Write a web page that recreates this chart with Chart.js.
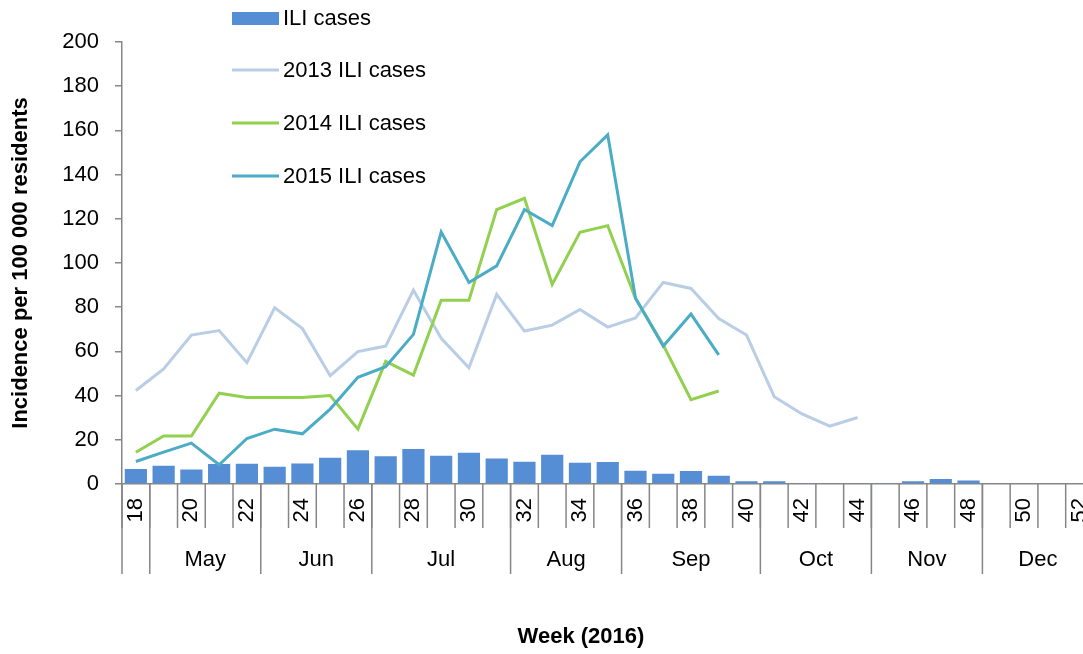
<!DOCTYPE html>
<html>
<head>
<meta charset="utf-8">
<script src="https://cdn.jsdelivr.net/npm/chart.js@4.4.1/dist/chart.umd.min.js"></script>
<style>
  html, body { margin: 0; padding: 0; overflow: hidden; background: #fff; }
  canvas { display: block; }
</style>
</head>
<body>
<canvas id="iliChart" width="1120" height="654"></canvas>
<script>
// weeks of 2016 shown on the x axis
const weeks = [18, 19, 20, 21, 22, 23, 24, 25, 26, 27, 28, 29, 30, 31, 32, 33, 34, 35,
  36, 37, 38, 39, 40, 41, 42, 43, 44, 45, 46, 47, 48, 49, 50, 51, 52];
const months = ["May", "Jun", "Jul", "Aug", "Sep", "Oct", "Nov", "Dec"];
const monthFirstWeek = [19, 23, 27, 32, 36, 41, 45, 49];
const yTicks = [0, 20, 40, 60, 80, 100, 120, 140, 160, 180, 200];

// incidence per 100 000 residents
const iliCases = [6.8, 8.3, 6.6, 9.0, 9.2, 7.8, 9.3, 11.9, 15.3, 12.6, 15.8, 12.8, 14.1,
  11.5, 10.1, 13.2, 9.6, 9.9, 6.0, 4.6, 5.9, 3.7, 1.3, 1.3, 0.4, 0, 0, 0.4, 1.3, 2.3, 1.6,
  0, 0, 0, 0];
const ili2013 = [42.3, 52.1, 67.4, 69.4, 54.9, 79.7, 70.3, 49.0, 59.9, 62.4, 87.7, 65.9,
  52.6, 85.8, 69.2, 71.9, 79.0, 71.0, 75.1, 91.2, 88.5, 74.9, 67.4, 39.5, 31.7, 26.2, 30.1];
const ili2014 = [14.4, 21.7, 21.7, 41.1, 39.1, 39.1, 39.1, 40.0, 24.8, 55.5, 49.3, 83.2,
  83.2, 124.2, 129.3, 90.3, 113.9, 116.9, 84.0, 62.9, 38.1, 42.1];
const ili2015 = [10.2, 14.4, 18.5, 8.7, 20.6, 24.8, 22.7, 33.9, 48.3, 53.1, 67.7, 114.0,
  91.2, 98.7, 124.2, 116.9, 145.8, 158.0, 84.2, 62.4, 76.9, 58.4];

const FONT = "'Liberation Sans', Arial, sans-serif";
const GREY = "#868686";

// month rows under the week ticks, axis title and the legend
const extrasPlugin = {
  id: "extras",
  afterDraw(chart) {
    const ctx = chart.ctx;
    const xs = chart.scales.x;
    const step = xs.width / weeks.length;
    const edge = (k) => xs.left + k * step;

    ctx.save();
    ctx.strokeStyle = GREY;
    ctx.lineWidth = 1.5;
    for (let k = 0; k <= weeks.length; k++) {
      ctx.beginPath();
      ctx.moveTo(edge(k), xs.top);
      ctx.lineTo(edge(k), xs.top + 44);
      ctx.stroke();
    }

    const bounds = [0, ...monthFirstWeek.map((w) => weeks.indexOf(w)), weeks.length];
    bounds.forEach((k) => {
      ctx.beginPath();
      ctx.moveTo(edge(k), xs.top);
      ctx.lineTo(edge(k), xs.top + 90);
      ctx.stroke();
    });

    ctx.fillStyle = "#000";
    ctx.font = "22px " + FONT;
    ctx.textAlign = "center";
    ctx.textBaseline = "middle";
    months.forEach((m, i) => {
      const x = (edge(bounds[i + 1]) + edge(bounds[i + 2])) / 2;
      ctx.fillText(m, x, xs.top + 76);
    });

    ctx.font = "bold 22px " + FONT;
    ctx.fillText("Week (2016)", 581, 637);

    // legend
    ctx.textAlign = "left";
    ctx.font = "22px " + FONT;
    const rows = [18, 70, 123, 176];
    chart.data.datasets.forEach((ds, i) => {
      const y = rows[i];
      if (ds.type === "bar") {
        ctx.fillStyle = ds.backgroundColor;
        ctx.fillRect(232, y - 6, 47, 13);
      } else {
        ctx.strokeStyle = ds.borderColor;
        ctx.lineWidth = 3;
        ctx.beginPath();
        ctx.moveTo(232, y);
        ctx.lineTo(279, y);
        ctx.stroke();
      }
      ctx.fillStyle = "#000";
      ctx.fillText(ds.label, 283, y + 1);
    });
    ctx.restore();
  },
};

const ctx = document.getElementById("iliChart").getContext("2d");
const iliChart = new Chart(ctx, {
  data: {
    labels: weeks,
    datasets: [
      {
        type: "bar",
        label: "ILI cases",
        data: iliCases,
        backgroundColor: "#558ed5",
        barPercentage: 0.8,
        categoryPercentage: 1,
        order: 4,
      },
      {
        type: "line",
        label: "2013 ILI cases",
        data: ili2013,
        borderColor: "#b9cde5",
        borderWidth: 3,
        pointRadius: 0,
        tension: 0,
        order: 3,
      },
      {
        type: "line",
        label: "2014 ILI cases",
        data: ili2014,
        borderColor: "#92d050",
        borderWidth: 3,
        pointRadius: 0,
        tension: 0,
        order: 2,
      },
      {
        type: "line",
        label: "2015 ILI cases",
        data: ili2015,
        borderColor: "#4bacc6",
        borderWidth: 3,
        pointRadius: 0,
        tension: 0,
        order: 1,
      },
    ],
  },
  options: {
    responsive: false,
    animation: false,
    events: [],
    layout: { padding: { top: 42, right: 3, left: 0, bottom: 0 } },
    plugins: {
      legend: { display: false },
      tooltip: { enabled: false },
    },
    scales: {
      x: {
        offset: true,
        grid: { display: false, drawTicks: false },
        border: { color: GREY, width: 1.5 },
        ticks: {
          autoSkip: false,
          minRotation: 90,
          maxRotation: 90,
          padding: 14,
          color: "#000",
          font: { family: FONT, size: 22 },
          callback: (value, index) => (weeks[index] % 2 === 0 ? String(weeks[index]) : ""),
        },
        afterFit: (scale) => { scale.height = 170; },
      },
      y: {
        min: 0,
        max: 200,
        afterBuildTicks: (scale) => { scale.ticks = yTicks.map((v) => ({ value: v })); },
        grid: { drawOnChartArea: false, tickLength: 7, color: GREY, lineWidth: 1.5 },
        border: { color: GREY, width: 1.5 },
        ticks: {
          padding: 16,
          color: "#000",
          font: { family: FONT, size: 22 },
        },
        title: {
          display: true,
          text: "Incidence per 100 000 residents",
          color: "#000",
          font: { family: FONT, size: 22, weight: "bold" },
          padding: { top: 8, bottom: 0 },
        },
        afterFit: (scale) => { scale.width = 122; },
      },
    },
  },
  plugins: [extrasPlugin],
});
</script>
</body>
</html>
